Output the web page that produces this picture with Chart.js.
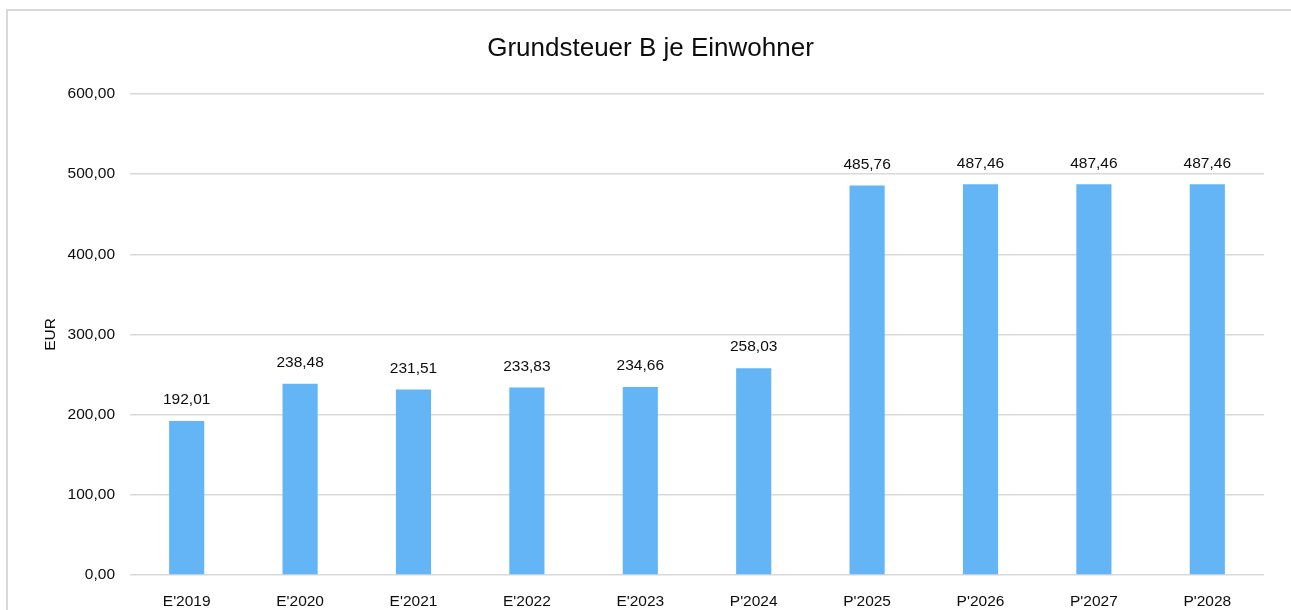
<!DOCTYPE html>
<html>
<head>
<meta charset="utf-8">
<script src="https://cdn.jsdelivr.net/npm/chart.js@4"></script>
<style>
  html, body { margin: 0; padding: 0; background: #fff; overflow: hidden; }
  #wrap { position: relative; width: 1291px; height: 610px; overflow: hidden; }
  #frame { position: absolute; left: 6px; top: 9px; width: 1300px; height: 620px; border: 2px solid #d9d9d9; box-sizing: border-box; }
  canvas { position: absolute; left: 0; top: 0; }
</style>
</head>
<body>
<div id="wrap">
  <div id="frame"></div>
  <canvas id="chart" width="1291" height="610"></canvas>
</div>
<script>
const labels = ["E'2019", "E'2020", "E'2021", "E'2022", "E'2023", "P'2024", "P'2025", "P'2026", "P'2027", "P'2028"];
const values = [192.01, 238.48, 231.51, 233.83, 234.66, 258.03, 485.76, 487.46, 487.46, 487.46];

const fmt = v => v.toFixed(2).replace('.', ',');
const FONT = "'Liberation Sans', Arial, sans-serif";
const TEXT = '#0d0d0d';

// Werte über den Balken
const valueLabels = {
  id: 'valueLabels',
  afterDatasetsDraw(chart) {
    const ctx = chart.ctx;
    const meta = chart.getDatasetMeta(0);
    ctx.save();
    ctx.font = `15.5px ${FONT}`;
    ctx.fillStyle = TEXT;
    ctx.textAlign = 'center';
    ctx.textBaseline = 'middle';
    meta.data.forEach((bar, i) => {
      ctx.fillText(fmt(values[i]), bar.x, bar.y - 21);
    });
    ctx.restore();
  }
};

const ctx = document.getElementById('chart');
let chart = new Chart(ctx, {
  type: 'bar',
  data: {
    labels: labels,
    datasets: [{
      label: 'Grundsteuer B je Einwohner',
      data: values,
      backgroundColor: '#64b5f6',
      barPercentage: 0.31,
      categoryPercentage: 1
    }]
  },
  options: {
    responsive: false,
    animation: false,
    layout: { padding: { left: 10, right: 0, top: 0, bottom: 0 } },
    plugins: {
      legend: { display: false },
      tooltip: { enabled: false },
      title: {
        display: true,
        text: 'Grundsteuer B je Einwohner',
        color: TEXT,
        font: { family: FONT, size: 26, weight: 'normal', lineHeight: 1.2 },
        padding: { top: 33, bottom: 29.8 }
      }
    },
    scales: {
      x: {
        grid: { display: false },
        border: { display: false },
        ticks: { color: TEXT, font: { family: FONT, size: 15.5 }, padding: 9, maxRotation: 0 },
        afterFit: scale => { scale.height = 35; }
      },
      y: {
        min: 0,
        max: 600,
        ticks: {
          stepSize: 100,
          color: TEXT,
          font: { family: FONT, size: 15.5 },
          padding: 15,
          callback: value => fmt(value)
        },
        grid: { color: '#d9d9d9', lineWidth: 1.5, drawTicks: false },
        border: { display: false },
        title: {
          display: true,
          text: 'EUR',
          color: TEXT,
          font: { family: FONT, size: 15.5 },
          padding: { top: 31, bottom: 0 }
        },
        afterFit: scale => { scale.width = 120; }
      },
      yRight: {
        position: 'right',
        min: 0,
        max: 600,
        ticks: { display: false },
        grid: { display: false },
        border: { display: false },
        afterFit: scale => { scale.width = 27; }
      }
    }
  },
  plugins: [valueLabels]
});
</script>
</body>
</html>
